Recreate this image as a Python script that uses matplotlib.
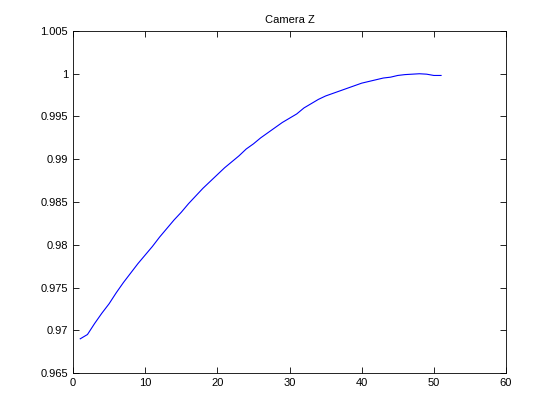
import matplotlib
matplotlib.use("Agg")
import matplotlib.pyplot as plt
from matplotlib.ticker import FormatStrFormatter, FuncFormatter

frames = list(range(1, 52))
camera_z = [
    0.9690, 0.9695, 0.9708, 0.9720, 0.9731, 0.9744, 0.9756, 0.9767, 0.9778, 0.9788,
    0.9798, 0.9809, 0.9819, 0.9829, 0.9838, 0.9848, 0.9857, 0.9866, 0.9874, 0.9882,
    0.9890, 0.9897, 0.9904, 0.9912, 0.9918, 0.9925, 0.9931, 0.9937, 0.9943, 0.9948,
    0.9953, 0.9960, 0.9965, 0.9970, 0.9974, 0.9977, 0.9980, 0.9983, 0.9986, 0.9989,
    0.9991, 0.9993, 0.9995, 0.9996, 0.9998, 0.9999, 0.99995, 1.0000, 0.99995, 0.9998,
    0.9998,
]
x_ticks = [0, 10, 20, 30, 40, 50, 60]
y_ticks = [0.965, 0.97, 0.975, 0.98, 0.985, 0.99, 0.995, 1.0, 1.005]

plt.rcParams["font.family"] = ["Liberation Sans", "DejaVu Sans"]
plt.rcParams["font.size"] = 8

fig = plt.figure(figsize=(5.6, 4.2), dpi=100)
ax = fig.add_axes([0.1304, 0.1119, 0.7732, 0.8143])
ax.plot(frames, camera_z, color="#0000ff", linewidth=0.8)

ax.set_xlim(0, 60)
ax.set_ylim(0.965, 1.005)
ax.set_xticks(x_ticks)
ax.set_yticks(y_ticks)
ax.yaxis.set_major_formatter(FuncFormatter(lambda v, _: "%g" % round(v, 4)))
ax.tick_params(direction="in", top=True, right=True, length=4, width=0.6, labelsize=8)
for s in ax.spines.values():
    s.set_linewidth(0.6)
ax.set_title("Camera Z", fontsize=8, pad=6)

fig.savefig("out.png", dpi=100)
